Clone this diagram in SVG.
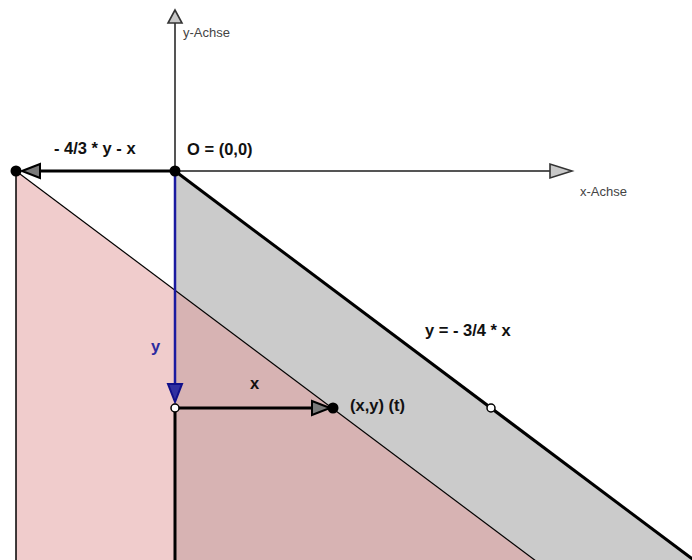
<svg xmlns="http://www.w3.org/2000/svg" width="692" height="560" viewBox="0 0 692 560">
<style>
.lbl{font-family:"Liberation Sans",Arial,sans-serif;font-size:16.5px;font-weight:bold;fill:#111}
.ax{font-family:"Liberation Sans",Arial,sans-serif;font-size:13px;fill:#444}
.axis{stroke:#555;stroke-width:2;fill:none}
.head{fill:#c8c8c8;stroke:#333;stroke-width:1.6;stroke-linejoin:miter}
.headd{fill:#7a7a7a;stroke:#000;stroke-width:2}
</style>
<rect width="692" height="560" fill="#fff"/>
<g id="regions">
<polygon points="175,171 696,561 175,561" fill="#cbcbcb"/>
<polygon points="16,171 536,561 16,561" fill="#e39e9e" fill-opacity="0.52"/>
</g>
<g id="connectors">
<line class="axis" x1="175" y1="171" x2="175" y2="22"/>
<polygon class="head" points="175,10 168,23 182,23"/>
<line class="axis" x1="175" y1="171" x2="550" y2="171"/>
<polygon class="head" points="572,171 550,164 550,178"/>
<line x1="175" y1="171" x2="695" y2="561" stroke="#000" stroke-width="3"/>
<line x1="16" y1="171" x2="536" y2="561" stroke="#000" stroke-width="1.2"/>
<line x1="16" y1="171" x2="16" y2="560" stroke="#000" stroke-width="1.5"/>
<line x1="175" y1="408" x2="175" y2="560" stroke="#000" stroke-width="3"/>
<line x1="175" y1="171" x2="40" y2="171" stroke="#000" stroke-width="3"/>
<polygon class="headd" points="22,171 40,164 40,178"/>
<line x1="175" y1="171" x2="175" y2="386" stroke="#1a1aa0" stroke-width="2.5"/>
<polygon points="175,402 168,384 182,384" fill="#3030a0" stroke="#10108a" stroke-width="2"/>
<line x1="175" y1="408" x2="312" y2="408" stroke="#000" stroke-width="3"/>
<polygon class="headd" points="330,408 312,401 312,415"/>
</g>
<g id="points">
<circle id="O" cx="175" cy="171" r="5.5" fill="#000"/>
<circle id="P" cx="16" cy="171" r="5.5" fill="#000"/>
<circle id="Q" cx="333" cy="408" r="5.5" fill="#000"/>
<circle id="R" cx="175" cy="408" r="4" fill="#fff" stroke="#000" stroke-width="1.5"/>
<circle id="S" cx="491" cy="408" r="4" fill="#fff" stroke="#000" stroke-width="1.5"/>
</g>
<g id="labels">
<text class="ax" x="183" y="37">y-Achse</text>
<text class="ax" x="580" y="196">x-Achse</text>
<text class="lbl" x="54" y="154">- 4/3 * y - x</text>
<text class="lbl" x="187" y="155">O = (0,0)</text>
<text class="lbl" x="425" y="336">y = - 3/4 * x</text>
<text class="lbl" x="151" y="352" style="fill:#2a2aa0">y</text>
<text class="lbl" x="250" y="389">x</text>
<text class="lbl" x="350" y="411">(x,y) (t)</text>
</g>
</svg>
